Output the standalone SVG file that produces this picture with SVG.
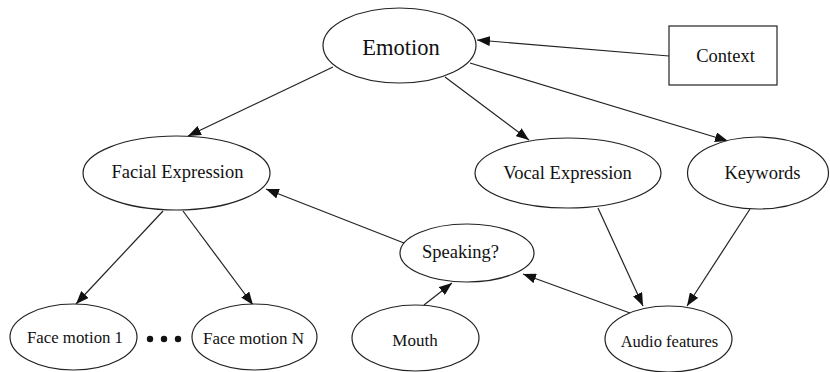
<svg xmlns="http://www.w3.org/2000/svg" width="830" height="372" viewBox="0 0 830 372">
<style>
.n{fill:#fff;stroke:#222;stroke-width:1.2}
.t{font-family:"Liberation Serif","Times New Roman",serif;fill:#111;text-anchor:middle;dominant-baseline:central}
.e{stroke:#222;stroke-width:1.2;fill:none;marker-end:url(#ah)}
</style>
<defs>
<marker id="ah" markerUnits="userSpaceOnUse" markerWidth="14" markerHeight="10" viewBox="0 0 14 10" refX="13" refY="5" orient="auto">
<path d="M0,0 L13,5 L0,10 Z" fill="#111"/>
</marker>
</defs>
<rect width="830" height="372" fill="#fff"/>
<g id="connectors">
<line class="e" x1="669" y1="56" x2="477" y2="40"/>
<line class="e" x1="333" y1="67" x2="188" y2="136"/>
<line class="e" x1="445" y1="77" x2="529" y2="140"/>
<line class="e" x1="470" y1="63" x2="728" y2="141"/>
<line class="e" x1="163" y1="211" x2="76" y2="304"/>
<line class="e" x1="183" y1="211" x2="253" y2="305"/>
<line class="e" x1="404" y1="243" x2="266" y2="189"/>
<line class="e" x1="424" y1="305" x2="452" y2="283"/>
<line class="e" x1="630" y1="313" x2="523" y2="274"/>
<line class="e" x1="598" y1="208" x2="643" y2="306"/>
<line class="e" x1="750" y1="209" x2="687" y2="306"/>
</g>
<g id="emotion"><ellipse class="n" cx="399.5" cy="45.5" rx="76.5" ry="37.5"/><text class="t" x="401" y="47" font-size="22.5">Emotion</text></g>
<g id="context"><rect class="n" x="669" y="26" width="108" height="59"/><text class="t" x="725.5" y="56" font-size="18.5">Context</text></g>
<g id="facial"><ellipse class="n" cx="176.5" cy="173" rx="93.5" ry="37"/><text class="t" x="177.5" y="172" font-size="18.5">Facial Expression</text></g>
<g id="vocal"><ellipse class="n" cx="568" cy="173" rx="93" ry="35"/><text class="t" x="567.5" y="173" font-size="18.5">Vocal Expression</text></g>
<g id="keywords"><ellipse class="n" cx="758" cy="173" rx="70.5" ry="36"/><text class="t" x="762.5" y="173" font-size="18.5">Keywords</text></g>
<g id="speaking"><ellipse class="n" cx="467" cy="253" rx="67" ry="29"/><text class="t" x="460.5" y="252" font-size="18.5">Speaking?</text></g>
<g id="face1"><ellipse class="n" cx="73.5" cy="337" rx="63.5" ry="33"/><text class="t" x="75" y="337" font-size="16.8">Face motion 1</text></g>
<g id="dots"><circle cx="150" cy="339" r="3.2" fill="#111"/><circle cx="164" cy="339" r="3.2" fill="#111"/><circle cx="178" cy="339" r="3.2" fill="#111"/></g>
<g id="faceN"><ellipse class="n" cx="254.5" cy="337" rx="62.5" ry="33"/><text class="t" x="253.5" y="338" font-size="17">Face motion N</text></g>
<g id="mouth"><ellipse class="n" cx="415.5" cy="338" rx="63.5" ry="33"/><text class="t" x="415" y="340" font-size="17">Mouth</text></g>
<g id="audio"><ellipse class="n" cx="668.5" cy="339" rx="63.5" ry="33"/><text class="t" x="669.5" y="341" font-size="16.5">Audio features</text></g>
</svg>
